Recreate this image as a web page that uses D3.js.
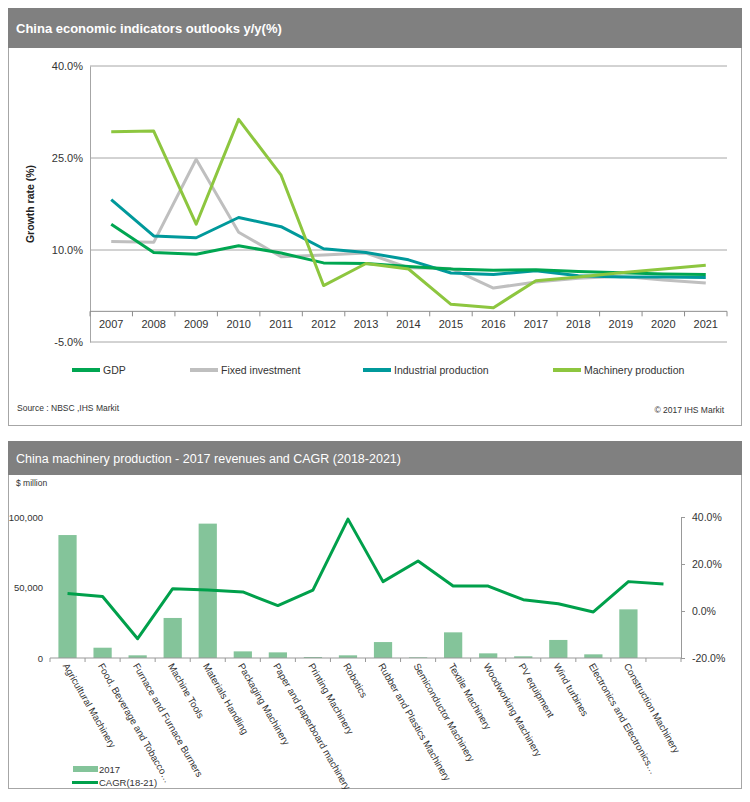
<!DOCTYPE html>
<html>
<head>
<meta charset="utf-8">
<script src="https://cdn.jsdelivr.net/npm/d3@7"></script>
<style>
  body { margin: 0; background: #fff; }
  text { font-family: "Liberation Sans", Arial, sans-serif; }
</style>
</head>
<body>
<div id="chart"></div>
<script>
// top chart data
const years = ["2007", "2008", "2009", "2010", "2011", "2012", "2013", "2014",
  "2015", "2016", "2017", "2018", "2019", "2020", "2021"];
const gdp = [14.2, 9.6, 9.3, 10.7, 9.5, 7.9, 7.8, 7.3, 6.9, 6.7, 6.8, 6.5, 6.3, 6.1, 6.0];
const fixedInvestment = [11.4, 11.25, 24.8, 12.9, 8.9, 9.2, 9.5, 7.1, 7.0, 3.8, 4.8, 5.4, 5.7, 5.1, 4.6];
const industrialProduction = [18.2, 12.3, 12.0, 15.3, 13.8, 10.2, 9.6, 8.4, 6.25, 6.0, 6.6, 5.8, 5.6, 5.6, 5.5];
const machineryProduction = [29.3, 29.4, 14.2, 31.3, 22.2, 4.2, 7.8, 6.9, 1.15, 0.6, 5.0, 5.6, 6.3, 6.9, 7.5];
const growthTicks = [-5, 10, 25, 40];

// bottom chart data
const sectors = ["Agricultural Machinery", "Food, Beverage and Tobacco…",
  "Furnace and Furnace Burners", "Machine Tools", "Materials Handling",
  "Packaging Machinery", "Paper and paperboard machinery", "Printing Machinery",
  "Robotics", "Rubber and Plastics Machinery", "Semiconductor Machinery",
  "Textile Machinery", "Woodworking Machinery", "PV equipment", "Wind turbines",
  "Electronics and Electronics…", "Construction Machinery", ""];
const revenue2017 = [87200, 7300, 1900, 28400, 95300, 4700, 4000, 700, 1900,
  11300, 500, 18200, 3300, 1200, 12800, 2600, 34500, null];
const cagr = [7.4, 6.2, -11.8, 9.5, 8.9, 8.1, 2.3, 8.9, 39.1, 12.5, 21.3, 10.6,
  10.6, 4.8, 3.1, -0.4, 12.5, 11.5];
const revenueTicks = [0, 50000, 100000];
const cagrTicks = [-20, 0, 20, 40];

const W = 750, H = 802;
const headerGrey = "#808080";
const frame = "#a6a6a6";
const textCol = "#333333";

const svg = d3.select("#chart").append("svg")
  .attr("width", W).attr("height", H);

svg.append("rect").attr("width", W).attr("height", H).attr("fill", "#fff");

// ---------- top panel ----------
svg.append("rect")
  .attr("x", 8.5).attr("y", 8.5).attr("width", 733).attr("height", 417)
  .attr("fill", "none").attr("stroke", frame);
svg.append("rect")
  .attr("x", 8).attr("y", 8).attr("width", 734).attr("height", 40)
  .attr("fill", headerGrey);
svg.append("text")
  .attr("x", 16).attr("y", 33)
  .attr("fill", "#fff").style("font-size", "13px").style("font-weight", "bold")
  .text("China  economic indicators outlooks y/y(%)");

const x1 = d3.scaleBand().domain(years).range([90, 727]);
const y1 = d3.scaleLinear().domain([-5, 40]).range([342, 66]);

// gridlines
svg.append("g")
  .selectAll("line")
  .data(growthTicks)
  .join("line")
  .attr("x1", 90).attr("x2", 727)
  .attr("y1", (d) => y1(d)).attr("y2", (d) => y1(d))
  .attr("stroke", "#a6a6a6").attr("stroke-width", 1);

// y axis
svg.append("g")
  .attr("transform", "translate(90,0)")
  .call(d3.axisLeft(y1).tickValues(growthTicks).tickSize(0).tickPadding(7)
    .tickFormat((d) => d.toFixed(1) + "%"))
  .call((g) => {
    g.select(".domain").attr("stroke", "#a6a6a6");
    g.selectAll(".tick text").attr("fill", textCol).style("font-size", "11px");
  });

// x axis at zero
const xAxisTop = svg.append("g").attr("transform", `translate(0,${y1(0)})`);
xAxisTop.append("line")
  .attr("x1", 90).attr("x2", 727).attr("stroke", "#8c8c8c");
xAxisTop.selectAll(".tk")
  .data(years.concat(["end"]))
  .join("line")
  .attr("class", "tk")
  .attr("x1", (d, i) => 90 + i * x1.step()).attr("x2", (d, i) => 90 + i * x1.step())
  .attr("y1", 0).attr("y2", 5).attr("stroke", "#8c8c8c");
xAxisTop.selectAll(".lbl")
  .data(years)
  .join("text")
  .attr("class", "lbl")
  .attr("x", (d) => x1(d) + x1.bandwidth() / 2)
  .attr("y", 17)
  .attr("text-anchor", "middle")
  .attr("fill", textCol).style("font-size", "11px")
  .text((d) => d);

svg.append("text")
  .attr("transform", "translate(34,204) rotate(-90)")
  .attr("text-anchor", "middle")
  .attr("fill", "#222").style("font-size", "10.5px").style("font-weight", "bold")
  .text("Growth rate (%)");

const topSeries = [
  { name: "GDP", values: gdp, color: "#00a651", lx: 72 },
  { name: "Fixed investment", values: fixedInvestment, color: "#bfbfbf", lx: 190 },
  { name: "Industrial production", values: industrialProduction, color: "#00999b", lx: 363 },
  { name: "Machinery production", values: machineryProduction, color: "#8dc63f", lx: 553 },
];

const line1 = d3.line()
  .x((d, i) => x1(years[i]) + x1.bandwidth() / 2)
  .y((d) => y1(d));

// draw order: grey, teal, gdp, machinery on top
[1, 2, 0, 3].forEach((k) => {
  const s = topSeries[k];
  svg.append("path")
    .datum(s.values)
    .attr("fill", "none")
    .attr("stroke", s.color)
    .attr("stroke-width", 3)
    .attr("stroke-linejoin", "round")
    .attr("d", line1);
});

// legend
const leg1 = svg.append("g");
topSeries.forEach((s) => {
  leg1.append("line")
    .attr("x1", s.lx).attr("x2", s.lx + 28)
    .attr("y1", 370).attr("y2", 370)
    .attr("stroke", s.color).attr("stroke-width", 4);
  leg1.append("text")
    .attr("x", s.lx + 31).attr("y", 374)
    .attr("fill", textCol).style("font-size", "10.5px")
    .text(s.name);
});

svg.append("text")
  .attr("x", 17).attr("y", 411)
  .attr("fill", textCol).style("font-size", "8.5px")
  .text("Source :  NBSC ,IHS Markit");
svg.append("text")
  .attr("x", 724).attr("y", 413)
  .attr("text-anchor", "end")
  .attr("fill", textCol).style("font-size", "8.5px")
  .text("© 2017  IHS Markit");

// ---------- bottom panel ----------
svg.append("rect")
  .attr("x", 8.5).attr("y", 441.5).attr("width", 733).attr("height", 347)
  .attr("fill", "none").attr("stroke", frame);
svg.append("rect")
  .attr("x", 8).attr("y", 441).attr("width", 734).attr("height", 34)
  .attr("fill", headerGrey);
svg.append("text")
  .attr("x", 16).attr("y", 463)
  .attr("fill", "#fff").style("font-size", "12.5px")
  .text("China machinery production - 2017 revenues and CAGR  (2018-2021)");
svg.append("text")
  .attr("x", 16).attr("y", 486)
  .attr("fill", textCol).style("font-size", "8.5px")
  .text("$ million");

const x2 = d3.scaleBand().domain(d3.range(sectors.length))
  .range([50, 681]).paddingInner(0.48).paddingOuter(0.24);
const yL = d3.scaleLinear().domain([0, 100000]).range([658, 517]);
const yR = d3.scaleLinear().domain([-20, 40]).range([658, 517]);

// left axis labels (no line)
svg.append("g")
  .attr("transform", "translate(43,0)")
  .call(d3.axisLeft(yL).tickValues(revenueTicks).tickSize(0).tickPadding(0)
    .tickFormat(d3.format(",")))
  .call((g) => {
    g.select(".domain").remove();
    g.selectAll(".tick text").attr("fill", textCol).style("font-size", "9.5px");
  });

// right axis
svg.append("g")
  .attr("transform", "translate(681,0)")
  .call(d3.axisRight(yR).tickValues(cagrTicks).tickSizeInner(4).tickSizeOuter(0)
    .tickPadding(7).tickFormat((d) => d.toFixed(1) + "%"))
  .call((g) => {
    g.select(".domain").attr("stroke", "#999");
    g.selectAll(".tick line").attr("stroke", "#999");
    g.selectAll(".tick text").attr("fill", textCol).style("font-size", "10.5px");
  });

// bars
svg.append("g")
  .selectAll("rect")
  .data(revenue2017.map((v, i) => ({ v, i })).filter((d) => d.v != null))
  .join("rect")
  .attr("x", (d) => x2(d.i))
  .attr("y", (d) => yL(d.v))
  .attr("width", x2.bandwidth())
  .attr("height", (d) => yL(0) - yL(d.v))
  .attr("fill", "#84c49a");

// x axis
const xAxisBot = svg.append("g").attr("transform", `translate(0,${yL(0)})`);
xAxisBot.append("line").attr("x1", 50).attr("x2", 681).attr("stroke", "#999");
xAxisBot.selectAll(".tk")
  .data(d3.range(sectors.length + 1))
  .join("line")
  .attr("class", "tk")
  .attr("x1", (d) => 50 + d * x2.step()).attr("x2", (d) => 50 + d * x2.step())
  .attr("y1", 0).attr("y2", 4).attr("stroke", "#999");

svg.append("g")
  .selectAll("text")
  .data(sectors.map((s, i) => ({ s, i })).filter((d) => d.s))
  .join("text")
  .attr("transform", (d) =>
    `translate(${x2(d.i) + x2.bandwidth() / 2 - 2},${yL(0) + 6}) rotate(60)`)
  .attr("text-anchor", "start")
  .attr("dy", "0.35em")
  .attr("fill", textCol).style("font-size", "9.7px")
  .text((d) => d.s);

// cagr line
const line2 = d3.line()
  .x((d, i) => x2(i) + x2.bandwidth() / 2)
  .y((d) => yR(d));
svg.append("path")
  .datum(cagr)
  .attr("fill", "none")
  .attr("stroke", "#00a04b")
  .attr("stroke-width", 3)
  .attr("stroke-linejoin", "round")
  .attr("d", line2);

// legend
svg.append("rect")
  .attr("x", 73).attr("y", 766).attr("width", 25).attr("height", 6)
  .attr("fill", "#84c49a");
svg.append("text")
  .attr("x", 99).attr("y", 773)
  .attr("fill", textCol).style("font-size", "9.5px").text("2017");
svg.append("line")
  .attr("x1", 72).attr("x2", 98).attr("y1", 782.5).attr("y2", 782.5)
  .attr("stroke", "#00a04b").attr("stroke-width", 3);
svg.append("text")
  .attr("x", 99).attr("y", 786)
  .attr("fill", textCol).style("font-size", "9.5px").text("CAGR(18-21)");
</script>
</body>
</html>
